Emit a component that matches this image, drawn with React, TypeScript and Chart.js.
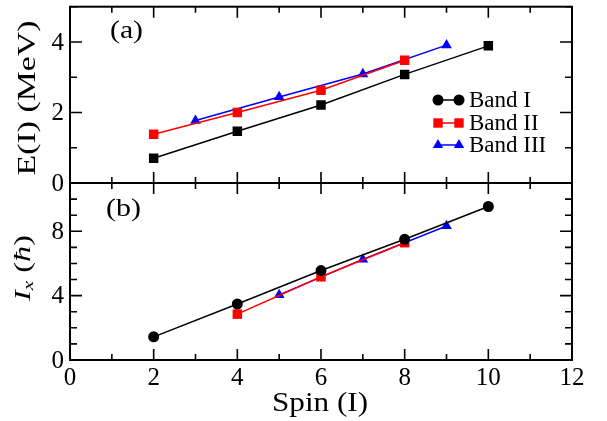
import React, { useEffect, useRef } from 'react';
import { Chart, registerables } from 'chart.js';

Chart.register(...registerables);

// ---------- data ----------
const spinA1 = [2, 4, 6, 8, 10];
const energyBand1 = [0.7, 1.47, 2.21, 3.08, 3.89];
const spinA2 = [2, 4, 6, 8];
const energyBand2 = [1.38, 2.0, 2.63, 3.48];
const spinA3 = [3, 5, 7, 9];
const energyBand3 = [1.77, 2.44, 3.09, 3.91];

const spinB1 = [2, 4, 6, 8, 10];
const ixBand1 = [1.44, 3.48, 5.56, 7.5, 9.54];
const spinB2 = [4, 6, 8];
const ixBand2 = [2.85, 5.17, 7.29];
const spinB3 = [5, 7, 9];
const ixBand3 = [4.05, 6.25, 8.33];

const xTickLabels = [0, 2, 4, 6, 8, 10, 12];
const eTickLabels = [0, 2, 4];
const ixTickLabels = [0, 4, 8];
const bandNames = ['Band I', 'Band II', 'Band III'];
const bandColors = ['#000000', '#ff0000', '#0000ff'];

const SERIF = '"Liberation Serif"';
const W = 607;
const H = 421;

function pts(xs: number[], ys: number[]) {
  return xs.map((x, i) => ({ x, y: ys[i] }));
}

function stretchedText(
  ctx: CanvasRenderingContext2D,
  text: string,
  x: number,
  y: number,
  font: string,
  targetW: number,
  align: 'left' | 'center'
) {
  ctx.save();
  ctx.font = font;
  ctx.textBaseline = 'alphabetic';
  ctx.textAlign = 'left';
  const w = ctx.measureText(text).width;
  ctx.translate(x, y);
  ctx.scale(targetW / w, 1);
  ctx.fillText(text, align === 'center' ? -w / 2 : 0, 0);
  ctx.restore();
}

function drawFrame(chart: any, xMajor: number, yMajor: number) {
  const { ctx, chartArea } = chart;
  const { left, right, top, bottom } = chartArea;
  const xs = chart.scales.x;
  const ys = chart.scales.y;
  ctx.save();
  ctx.strokeStyle = '#000';
  ctx.lineWidth = 1.6;
  ctx.beginPath();
  for (let v = xs.min; v <= xs.max + 1e-9; v += 1) {
    const px = xs.getPixelForValue(v);
    const len = Math.abs(v % xMajor) < 1e-9 ? 11 : 6;
    ctx.moveTo(px, bottom);
    ctx.lineTo(px, bottom - len);
    ctx.moveTo(px, top);
    ctx.lineTo(px, top + len);
  }
  for (let v = ys.min; v <= ys.max + 1e-9; v += 1) {
    const py = ys.getPixelForValue(v);
    const len = Math.abs(v % yMajor) < 1e-9 ? 12 : 7;
    ctx.moveTo(left, py);
    ctx.lineTo(left + len, py);
    ctx.moveTo(right, py);
    ctx.lineTo(right - len, py);
  }
  ctx.stroke();
  ctx.lineWidth = 2;
  ctx.strokeRect(left, top, right - left, bottom - top);
  ctx.restore();
}

function drawYTickLabels(chart: any, values: number[]) {
  const { ctx } = chart;
  const ys = chart.scales.y;
  ctx.save();
  ctx.fillStyle = '#000';
  ctx.font = `25px ${SERIF}`;
  ctx.textAlign = 'right';
  ctx.textBaseline = 'middle';
  values.forEach((v) => {
    ctx.fillText(String(v), 64, ys.getPixelForValue(v) + 1);
  });
  ctx.restore();
}

function drawMarker(ctx: CanvasRenderingContext2D, style: string, x: number, y: number, color: string) {
  ctx.fillStyle = color;
  ctx.beginPath();
  if (style === 'circle') {
    ctx.arc(x, y, 5.5, 0, Math.PI * 2);
  } else if (style === 'rect') {
    ctx.rect(x - 4.7, y - 4.7, 9.4, 9.4);
  } else {
    const r = 6;
    ctx.moveTo(x, y - r);
    ctx.lineTo(x + r * Math.sin((2 * Math.PI) / 3), y + r / 2);
    ctx.lineTo(x - r * Math.sin((2 * Math.PI) / 3), y + r / 2);
    ctx.closePath();
  }
  ctx.fill();
}

const decorA = {
  id: 'decorA',
  afterDraw(chart: any) {
    const { ctx } = chart;
    drawFrame(chart, 2, 2);
    drawYTickLabels(chart, eTickLabels);
    ctx.save();
    ctx.fillStyle = '#000';
    ctx.translate(35, 98);
    ctx.rotate(-Math.PI / 2);
    stretchedText(ctx, 'E(I) (MeV)', 0, 0, `26px ${SERIF}`, 155, 'center');
    ctx.restore();
    ctx.save();
    ctx.fillStyle = '#000';
    stretchedText(ctx, '(a)', 110, 38, `26px ${SERIF}`, 33, 'left');
    const styles = ['circle', 'rect', 'triangle'];
    const rowsY = [100, 123, 145];
    bandNames.forEach((name, i) => {
      const y = rowsY[i];
      ctx.strokeStyle = bandColors[i];
      ctx.lineWidth = 1.5;
      ctx.beginPath();
      ctx.moveTo(438, y);
      ctx.lineTo(459, y);
      ctx.stroke();
      drawMarker(ctx, styles[i], 438, y, bandColors[i]);
      drawMarker(ctx, styles[i], 459, y, bandColors[i]);
      ctx.fillStyle = '#000';
      ctx.font = `23px ${SERIF}`;
      ctx.textAlign = 'left';
      ctx.textBaseline = 'middle';
      ctx.fillText(name, 469, y + 1);
    });
    ctx.restore();
  },
};

const decorB = {
  id: 'decorB',
  afterDraw(chart: any) {
    const { ctx, chartArea } = chart;
    drawFrame(chart, 2, 4);
    drawYTickLabels(chart, ixTickLabels);
    const xs = chart.scales.x;
    ctx.save();
    ctx.fillStyle = '#000';
    ctx.font = `25px ${SERIF}`;
    ctx.textAlign = 'center';
    ctx.textBaseline = 'middle';
    xTickLabels.forEach((v) => {
      ctx.fillText(String(v), xs.getPixelForValue(v), chartArea.bottom + 18);
    });
    stretchedText(ctx, 'Spin (I)', 320, 411, `27px ${SERIF}`, 96, 'center');
    stretchedText(ctx, '(b)', 106, 216, `26px ${SERIF}`, 35, 'left');
    ctx.restore();

    // y title: I_x (ħ)
    ctx.save();
    ctx.fillStyle = '#000';
    ctx.translate(30, 268);
    ctx.rotate(-Math.PI / 2);
    const mainIt = `italic 23px ${SERIF}`;
    const subIt = `italic 15px ${SERIF}`;
    const mainUp = `23px ${SERIF}`;
    const parts: { t: string; f: string; dy: number }[] = [
      { t: 'I', f: mainIt, dy: 0 },
      { t: 'x', f: subIt, dy: 3 },
      { t: ' (', f: mainUp, dy: 0 },
      { t: 'ħ', f: mainIt, dy: 0 },
      { t: ')', f: mainUp, dy: 0 },
    ];
    let total = 0;
    const widths = parts.map((p) => {
      ctx.font = p.f;
      const w = ctx.measureText(p.t).width;
      total += w;
      return w;
    });
    const target = 66;
    ctx.scale(target / total, 1);
    let cx = -total / 2;
    ctx.textAlign = 'left';
    ctx.textBaseline = 'alphabetic';
    parts.forEach((p, i) => {
      ctx.font = p.f;
      ctx.fillText(p.t, cx, p.dy);
      cx += widths[i];
    });
    ctx.restore();
  },
};

function makeDataset(label: string, data: { x: number; y: number }[], color: string, style: string, radius: number) {
  return {
    label,
    data,
    borderColor: color,
    backgroundColor: color,
    borderWidth: 1.5,
    pointStyle: style,
    pointRadius: radius,
    pointBorderWidth: 0,
    pointBackgroundColor: color,
    showLine: true,
    fill: false,
    tension: 0,
  };
}

function baseOptions(yMax: number, padding: any) {
  return {
    responsive: false,
    animation: false as const,
    devicePixelRatio: 1,
    layout: { padding },
    font: { family: SERIF },
    plugins: { legend: { display: false }, tooltip: { enabled: false } },
    scales: {
      x: { type: 'linear' as const, min: 0, max: 12, display: false },
      y: { type: 'linear' as const, min: 0, max: yMax, display: false },
    },
  };
}

export default function App() {
  const refA = useRef<HTMLCanvasElement>(null);
  const refB = useRef<HTMLCanvasElement>(null);

  useEffect(() => {
    const chartA = new Chart(refA.current as HTMLCanvasElement, {
      type: 'scatter',
      data: {
        datasets: [
          makeDataset(bandNames[0], pts(spinA1, energyBand1), bandColors[0], 'rect', 6.7),
          makeDataset(bandNames[1], pts(spinA2, energyBand2), bandColors[1], 'rect', 6.7),
          makeDataset(bandNames[2], pts(spinA3, energyBand3), bandColors[2], 'triangle', 6.2),
        ],
      },
      options: baseOptions(5, { left: 70, top: 5, right: 35, bottom: 238 }) as any,
      plugins: [decorA],
    });
    const chartB = new Chart(refB.current as HTMLCanvasElement, {
      type: 'scatter',
      data: {
        datasets: [
          makeDataset(bandNames[0], pts(spinB1, ixBand1), bandColors[0], 'circle', 5.5),
          makeDataset(bandNames[1], pts(spinB2, ixBand2), bandColors[1], 'rect', 6.7),
          makeDataset(bandNames[2], pts(spinB3, ixBand3), bandColors[2], 'triangle', 6.2),
        ],
      },
      options: baseOptions(11, { left: 70, top: 183, right: 35, bottom: 61 }) as any,
      plugins: [decorB],
    });
    return () => {
      chartA.destroy();
      chartB.destroy();
    };
  }, []);

  const canvasStyle: React.CSSProperties = { position: 'absolute', left: 0, top: 0, width: W, height: H };
  return (
    <div style={{ position: 'fixed', left: 0, top: 0, width: W, height: H, background: '#fff' }}>
      <canvas ref={refA} width={W} height={H} style={canvasStyle} />
      <canvas ref={refB} width={W} height={H} style={canvasStyle} />
    </div>
  );
}
